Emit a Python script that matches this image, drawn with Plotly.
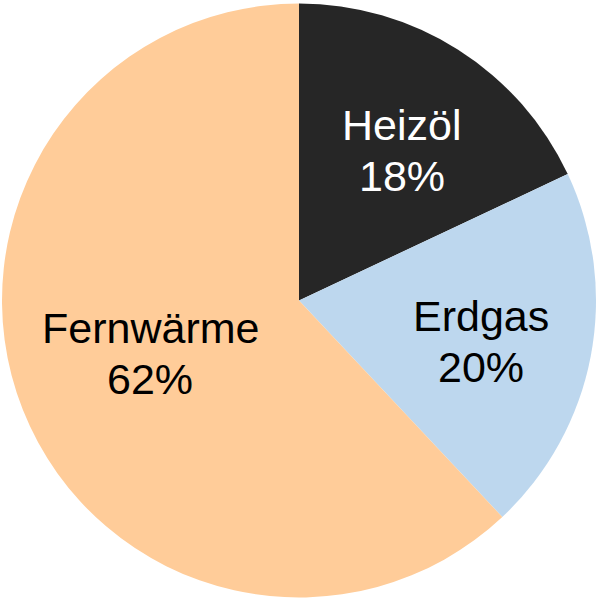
import math
import plotly.graph_objects as go

labels = ["Heizöl", "Erdgas", "Fernwärme"]
values = [18, 20, 62]
colors = ["#262626", "#BDD7EE", "#FFCC99"]
text_colors = ["#FFFFFF", "#000000", "#000000"]
label_radius = [0.612, 0.627, 0.532]   # label distance from centre (fraction of radius)
label_angle_nudge = 2.0                 # degrees, clockwise

W, H = 596, 599
ML, MR, MT, MB = 2, 0, 3, 1
PW, PH = W - ML - MR, H - MT - MB
FONT = "Liberation Sans, Arial, sans-serif"
FSIZE = 43
LINE_GAP = 51

fig = go.Figure(go.Pie(
    labels=labels,
    values=values,
    sort=False,
    direction="clockwise",
    rotation=0,
    marker=dict(colors=colors, line=dict(width=0)),
    textinfo="none",
    hoverinfo="skip",
    domain=dict(x=[0, 1], y=[0, 1]),
))

# label positions derived from the slice angles
total = sum(values)
cx, cy = PW / 2, PH / 2
R = min(PW, PH) / 2
annotations = []
cum = 0
for lab, v, col, rf in zip(labels, values, text_colors, label_radius):
    mid = (cum + v / 2) / total * 360 + label_angle_nudge
    cum += v
    a = math.radians(mid)
    px = cx + rf * R * math.sin(a)
    py = cy - rf * R * math.cos(a)
    pct = f"{round(v / total * 100)}%"
    for txt, off in ((lab, -LINE_GAP / 2), (pct, LINE_GAP / 2)):
        annotations.append(dict(
            x=px / PW, y=1 - (py + off) / PH, xref="paper", yref="paper",
            text=txt, showarrow=False, xanchor="center", yanchor="middle",
            font=dict(family=FONT, size=FSIZE, color=col),
        ))

fig.update_layout(
    width=W, height=H,
    margin=dict(l=ML, r=MR, t=MT, b=MB),
    showlegend=False,
    paper_bgcolor="white",
    plot_bgcolor="white",
    annotations=annotations,
)

fig.write_html("out.html", config={"displayModeBar": False},
               post_script="document.body.style.margin='0';")
